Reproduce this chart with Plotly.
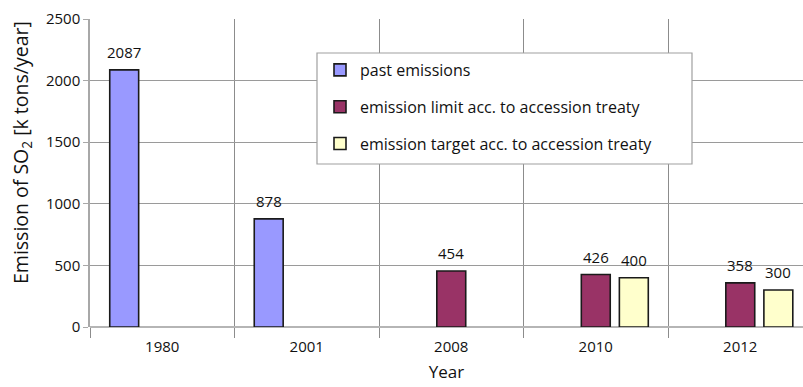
import plotly.graph_objects as go

years = ["1980", "2001", "2008", "2010", "2012"]
past_emissions = [2087, 878, None, None, None]
emission_limit = [None, None, 454, 426, 358]
emission_target = [None, None, None, 400, 300]
series_names = ["past emissions",
                "emission limit acc. to accession treaty",
                "emission target acc. to accession treaty"]
series_values = [past_emissions, emission_limit, emission_target]
colors = ["#9999FF", "#993366", "#FFFFCC"]

W, H = 803, 387
ml, mr, mt, mb = 90, 0, 19, 60
pw, ph = W - ml - mr, H - mt - mb
x_range = [-0.5, 4.434]
bargap = 0.21
px_per_cat = pw / (x_range[1] - x_range[0])
slot_px = (1 - bargap) / 3 * px_per_cat

font = "Open Sans, Noto Sans, sans-serif"
fig = go.Figure()
for i, (name, vals, col) in enumerate(zip(series_names, series_values, colors)):
    fig.add_trace(go.Bar(
        x=years, y=vals, name=name, legendgroup=f"g{i}",
        marker=dict(color=col, line=dict(color="#1a1a1a", width=1.6)),
        hoverinfo="x+y",
    ))

annotations = []
for i, vals in enumerate(series_values):
    for j, v in enumerate(vals):
        if v is None:
            continue
        annotations.append(dict(
            x=j, y=v, xref="x", yref="y", text=str(v), showarrow=False,
            yanchor="bottom", yshift=6, xshift=(i - 1) * slot_px,
            font=dict(family=font, size=15, color="#111"),
        ))

annotations.append(dict(
    x=(21 - ml) / pw, y=(H - mb - 153) / ph, xref="paper", yref="paper",
    text="Emission of SO<sub>2</sub> [k tons/year]", textangle=-90,
    showarrow=False, xanchor="center", yanchor="middle",
    font=dict(family=font, size=19.5, color="#111"),
))

fig.update_layout(
    width=W, height=H,
    margin=dict(l=ml, r=mr, t=mt, b=mb, pad=0),
    paper_bgcolor="white", plot_bgcolor="white",
    barmode="group", bargap=bargap, bargroupgap=0.24,
    font=dict(family=font, color="#222"),
    showlegend=True,
    legend=dict(x=(320 - ml) / pw, y=(H - mb - 53) / ph, xanchor="left", yanchor="top",
                bgcolor="rgba(0,0,0,0)", borderwidth=0,
                font=dict(family=font, size=16, color="#111"),
                traceorder="grouped", tracegroupgap=13, itemwidth=30),
    annotations=annotations,
    shapes=[dict(type="rect", xref="paper", yref="paper",
                 x0=(317 - ml) / pw, x1=(692 - ml) / pw,
                 y0=(H - mb - 164) / ph, y1=(H - mb - 53) / ph,
                 fillcolor="white", line=dict(color="#a0a0a0", width=1.2),
                 layer="above")],
    xaxis=dict(
        type="category", range=x_range, tickson="boundaries",
        showgrid=True, gridcolor="#8c8c8c", gridwidth=1,
        ticks="outside", ticklen=10, tickcolor="#8c8c8c",
        showline=False, zeroline=False, ticklabelstandoff=9,
        tickfont=dict(family=font, size=15, color="#111"),
        title=dict(text="Year", font=dict(family=font, size=17, color="#111"), standoff=11),
    ),
    yaxis=dict(
        range=[0, 2500], dtick=500, tick0=0,
        showgrid=True, gridcolor="#9a9a9a", gridwidth=1,
        zeroline=True, zerolinecolor="#b5b5b5", zerolinewidth=2,
        showline=True, linecolor="#a8a8a8", linewidth=1.5,
        ticks="outside", ticklen=5, tickcolor="#a8a8a8",
        tickfont=dict(family=font, size=15, color="#111"),
    ),
)

fig.write_html("out.html")
